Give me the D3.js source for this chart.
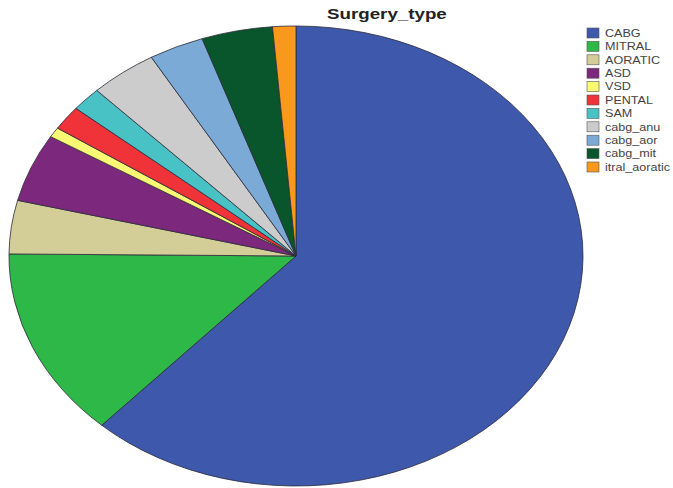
<!DOCTYPE html>
<html>
<head>
<meta charset="utf-8">
<script src="https://cdn.jsdelivr.net/npm/d3@7/dist/d3.min.js"></script>
<style>
  html, body { margin: 0; padding: 0; background: #fff; }
  svg { display: block; }
</style>
</head>
<body>
<svg id="chart" width="673" height="488"></svg>
<script>
// Surgery type shares (percent of cases)
const categories = ["CABG", "MITRAL", "AORATIC", "ASD", "VSD", "PENTAL", "SAM",
                    "cabg_anu", "cabg_aor", "cabg_mit", "itral_aoratic"];
const values = [61.8, 13.3, 3.75, 4.8, 0.7, 1.7, 1.7, 3.8, 3.1, 4.0, 1.3];
const colors = ["#3E58AC", "#2EB848", "#D3CE97", "#7C287D", "#FBF873", "#EF3338",
                "#48C2C5", "#CCCCCC", "#7AAAD5", "#0A562C", "#F8981D"];
const title = "Surgery_type";

const svg = d3.select("#chart");

// Elliptical pie: unit-radius arcs scaled to the ellipse
const cx = 296, cy = 256, rx = 287, ry = 230;
const data = categories.map((c, i) => ({ name: c, value: values[i] }));
const pie = d3.pie().value(d => d.value).sort(null).startAngle(0).endAngle(2 * Math.PI);
const arc = d3.arc().innerRadius(0).outerRadius(1);
const color = d3.scaleOrdinal().domain(categories).range(colors);

const g = svg.append("g")
  .attr("transform", `translate(${cx},${cy}) scale(${rx},${ry})`);

g.selectAll("path")
  .data(pie(data))
  .join("path")
  .attr("d", arc)
  .attr("fill", d => color(d.data.name))
  .attr("stroke", "#2a2a3a")
  .attr("stroke-width", 1)
  .attr("stroke-opacity", 0.8)
  .attr("vector-effect", "non-scaling-stroke");

// Title
svg.append("text")
  .attr("transform", "translate(327,19) scale(1.25,1)")
  .attr("font-family", "Liberation Sans, Arial, sans-serif")
  .attr("font-weight", "bold")
  .attr("font-size", 15)
  .attr("fill", "#222")
  .text(title);

// Legend
const legend = svg.append("g");
const rowY = d3.scaleLinear().domain([0, categories.length - 1]).range([33, 167]);
const item = legend.selectAll("g")
  .data(categories)
  .join("g")
  .attr("transform", (d, i) => `translate(587,${rowY(i)})`);

item.append("rect")
  .attr("x", 0).attr("y", -5)
  .attr("width", 12).attr("height", 10)
  .attr("fill", d => color(d))
  .attr("stroke", "#555")
  .attr("stroke-width", 0.6);

item.append("text")
  .attr("transform", "translate(18,3.8) scale(1.2,1)")
  .attr("font-family", "Liberation Sans, Arial, sans-serif")
  .attr("font-size", 10.5)
  .attr("fill", "#444")
  .text(d => d);
</script>
</body>
</html>
